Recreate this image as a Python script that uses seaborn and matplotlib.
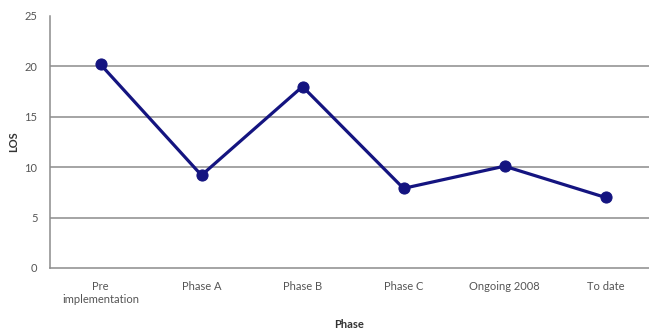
import matplotlib
matplotlib.use("Agg")
import matplotlib.pyplot as plt
import seaborn as sns
import pandas as pd

phases = ["Pre\nimplementation", "Phase A", "Phase B", "Phase C", "Ongoing 2008", "To date"]
los = [20.2, 9.2, 18.0, 7.9, 10.1, 7.0]
yticks = [0, 5, 10, 15, 20, 25]

df = pd.DataFrame({"Phase": phases, "LOS": los})

sns.set_style("white")
plt.rcParams["font.family"] = ["Lato", "DejaVu Sans"]

fig = plt.figure(figsize=(6.49, 3.33), dpi=100)
ax = fig.add_axes([50 / 649, 65 / 333, 599 / 649, 252 / 333])

for v in yticks[1:-1]:
    ax.axhline(v, color="#8c8c8c", lw=1.1, zorder=0)

sns.lineplot(data=df, x="Phase", y="LOS", sort=False, color="#141480", lw=2.3,
             marker="o", markersize=8, markeredgecolor="#141480", ax=ax)

ax.set_xlim(-0.5, -0.5 + 599 / 101)
ax.set_ylim(0, 25)
ax.set_yticks(yticks)
ax.set_xticks(range(len(phases)))
ax.set_xticklabels(phases, linespacing=1.3)
ax.set_xticks([i + 0.5 for i in range(len(phases) - 1)] + [-0.5], minor=True)

for s in ["top", "right"]:
    ax.spines[s].set_visible(False)
for s in ["left", "bottom"]:
    ax.spines[s].set_color("#8c8c8c")
    ax.spines[s].set_linewidth(1.1)

ax.tick_params(axis="x", which="major", length=0, pad=9, labelsize=8, colors="#555555")
ax.tick_params(axis="x", which="minor", length=3, color="#8c8c8c", direction="out")
ax.tick_params(axis="y", length=3, color="#8c8c8c", labelsize=8, colors="#555555", pad=6)

ax.set_xlabel("Phase", fontsize=8, fontweight="bold", color="#333333")
ax.xaxis.set_label_coords(299 / 599, -51 / 252)
ax.set_ylabel("LOS", fontsize=8, fontweight="bold", color="#333333")
ax.yaxis.set_label_coords(-31 / 599, 0.5)

fig.savefig("out.png", dpi=100)
